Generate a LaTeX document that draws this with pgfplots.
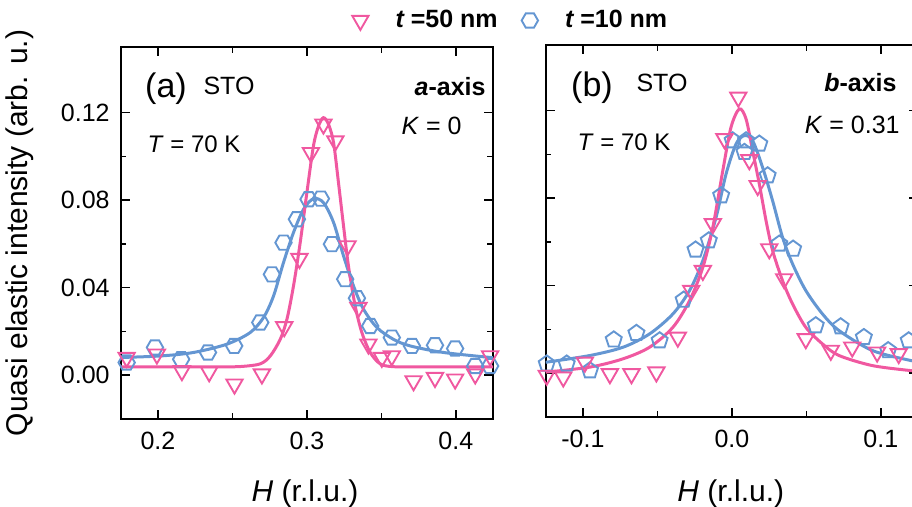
\documentclass[border=0pt]{standalone}
\usepackage{fontspec}
\setmainfont{Liberation Sans}
\usepackage{pgfplots}
\pgfplotsset{compat=1.18}
\usetikzlibrary{plotmarks}
\definecolor{cpink}{RGB}{240,88,160}
\definecolor{cblue}{RGB}{100,150,210}
\pgfdeclareplotmark{hexa}{%
  \pgfpathmoveto{\pgfqpointpolar{0}{\pgfplotmarksize}}%
  \pgfpathlineto{\pgfqpointpolar{60}{\pgfplotmarksize}}%
  \pgfpathlineto{\pgfqpointpolar{120}{\pgfplotmarksize}}%
  \pgfpathlineto{\pgfqpointpolar{180}{\pgfplotmarksize}}%
  \pgfpathlineto{\pgfqpointpolar{240}{\pgfplotmarksize}}%
  \pgfpathlineto{\pgfqpointpolar{300}{\pgfplotmarksize}}%
  \pgfpathclose\pgfusepathqstroke}
\pgfplotsset{
  mystyle/.style={
    scale only axis, width=186.2pt, height=186pt,
    ymin=-0.02, ymax=0.15,
    ytick={0,0.04,0.08,0.12},
    minor x tick num=1, minor y tick num=1,
    tick align=inside, tick pos=both,
    major tick length=4.5pt, minor tick length=2.8pt,
    axis line style={line width=0.9pt},
    every tick/.append style={line width=0.8pt, black},
    tick label style={font=\fontsize{12.5}{14}\selectfont},
    xticklabel style={yshift=-3pt},
    yticklabel style={xshift=-2pt},
    /pgf/number format/assume math mode=true,
    label style={font=\fontsize{15}{17}\selectfont},
  },
  pinkm/.style={only marks, mark=triangle, mark size=4.7pt, mark options={rotate=180, line width=0.95pt, cpink, fill=none}},
  bluem/.style={only marks, mark=hexa, mark size=4.1pt, mark options={line width=0.95pt, cblue, fill=none}},
  bluep/.style={only marks, mark=pentagon, mark size=4.2pt, mark options={line width=0.95pt, cblue, fill=none}},
  pinkl/.style={no marks, smooth, tension=0.5, cpink, line width=1.5pt},
  bluel/.style={no marks, smooth, tension=0.5, cblue, line width=1.5pt},
}
\begin{document}
\begin{tikzpicture}
\useasboundingbox (0,0) rectangle (456pt,253.5pt);
% ---------------- panel (a)
\begin{axis}[mystyle, at={(60.35pt,44pt)}, anchor=south west,
  xmin=0.175, xmax=0.425,
  xtick={0.2,0.3,0.4}, xticklabels={0.2,0.3,0.4},
  yticklabels={0.00,0.04,0.08,0.12},
  xlabel={\textit{H} (r.l.u.)},
  xlabel style={at={(axis description cs:0.495,-0.2)}, anchor=center},
  ylabel={Quasi elastic intensity (arb. u.)},
  ylabel style={at={(axis description cs:-0.272,0.5)}, anchor=center},
  legend columns=2,
  legend style={at={(1.05,1.0712)}, anchor=center, draw=none, fill=none,
    font=\fontsize{12.5}{15}\selectfont\bfseries,
    /tikz/every even column/.append style={column sep=10pt}},
]
\addplot[bluem, forget plot] coordinates {
(0.179,0.0058) (0.198,0.0127) (0.2156,0.0073) (0.2336,0.0104) (0.2512,0.0134)
(0.2687,0.0241) (0.2765,0.0461) (0.2843,0.0606) (0.2933,0.0713) (0.3011,0.0804)
(0.3094,0.0807) (0.3168,0.0599) (0.3257,0.0439) (0.3336,0.0352) (0.3425,0.0225)
(0.3570,0.0172) (0.3705,0.0134) (0.3860,0.0137) (0.3995,0.0122) (0.4130,0.0042)
(0.4230,0.0042)};
\addplot[pinkm] coordinates {
(0.179,0.0081) (0.1993,0.0096) (0.2161,0.0020) (0.2344,0.0015) (0.2514,-0.0041)
(0.2698,0.0005) (0.2848,0.0221) (0.2950,0.0533) (0.3027,0.1017) (0.3111,0.1147)
(0.3191,0.1070) (0.3273,0.0591) (0.3346,0.0309) (0.3413,0.0142) (0.3503,0.0081)
(0.3570,0.0088) (0.3716,-0.0026) (0.3860,-0.0011) (0.3995,-0.0018) (0.4130,0.0005)
(0.4230,0.0088)};
\addlegendentry{\hspace{11.5pt}{\itshape t} =50 nm}
\addplot[bluem] coordinates {(1,1)};
\addlegendentry{\hspace{11.5pt}{\itshape t} =10 nm}
\addplot[bluel, forget plot] coordinates {
(0.175,0.0081) (0.2015,0.0088) (0.2239,0.0104) (0.2463,0.0142) (0.2619,0.0195)
(0.2709,0.0264) (0.2776,0.0362) (0.2843,0.0515) (0.2910,0.0652) (0.2977,0.0758)
(0.3044,0.0807) (0.3111,0.0789) (0.3179,0.0698) (0.3246,0.0545) (0.3313,0.0408)
(0.3380,0.0302) (0.3470,0.0218) (0.3581,0.0164) (0.3693,0.0134) (0.3917,0.0104)
(0.425,0.0080)};
\addplot[pinkl, forget plot] coordinates {
(0.175,0.0038) (0.20,0.0038) (0.24,0.0038) (0.256,0.0040) (0.2687,0.0052)
(0.2754,0.0088) (0.2821,0.0164) (0.2866,0.0256) (0.2910,0.0408) (0.2955,0.0606)
(0.3000,0.0835) (0.3044,0.1048) (0.3078,0.1139) (0.3111,0.1177) (0.3145,0.1147)
(0.3179,0.1063) (0.3212,0.0880) (0.3246,0.0682) (0.3279,0.0499) (0.3324,0.0317)
(0.3369,0.0195) (0.3425,0.0104) (0.3492,0.0052) (0.3581,0.0039) (0.38,0.0038)
(0.425,0.0038)};
\end{axis}
% ---------------- panel (b)
\begin{axis}[mystyle, at={(272.85pt,45pt)}, anchor=south west,
  xmin=-0.125, xmax=0.125,
  xtick={-0.1,0,0.1}, xticklabels={-0.1,0.0,0.1},
  yticklabels={},
  xlabel={\textit{H} (r.l.u.)},
  xlabel style={at={(axis description cs:0.497,-0.205)}, anchor=center},
]
\addplot[bluep] coordinates {
(-0.1243,0.0043) (-0.1109,0.0043) (-0.0953,0.0012) (-0.0793,0.0153) (-0.0641,0.0183)
(-0.0485,0.0149) (-0.0324,0.0335) (-0.0244,0.0564) (-0.0155,0.0606) (-0.0072,0.0812)
(0.0005,0.1063) (0.0095,0.1063) (0.0084,0.1010) (0.0184,0.1048) (0.0240,0.0903)
(0.0318,0.0591) (0.0411,0.0568) (0.0563,0.0218) (0.0730,0.0213) (0.0886,0.0164)
(0.1049,0.0104) (0.1187,0.0149)};
\addplot[pinkm] coordinates {
(-0.1243,-0.0010) (-0.1132,-0.0018) (-0.0987,0.0050) (-0.0819,-0.0003) (-0.0674,-0.0003)
(-0.0507,0.0005) (-0.0363,0.0164) (-0.0273,0.0378) (-0.0195,0.0469) (-0.0128,0.0683)
(-0.0050,0.1071) (0.0043,0.1261) (0.0117,0.0975) (0.0173,0.0857) (0.0251,0.0568)
(0.0351,0.0431) (0.0496,0.0157) (0.0664,0.0104) (0.0808,0.0119) (0.0975,0.0096)
(0.1120,0.0089)};
\addplot[bluel] coordinates {
(-0.125,0.0050) (-0.0953,0.0081) (-0.0730,0.0119) (-0.0552,0.0180) (-0.0396,0.0271)
(-0.0284,0.0378) (-0.0195,0.0515) (-0.0106,0.0713) (-0.0039,0.0911) (0.0028,0.1048)
(0.0084,0.1086) (0.0139,0.1063) (0.0206,0.0941) (0.0273,0.0789) (0.0340,0.0621)
(0.0407,0.0500) (0.0496,0.0378) (0.0608,0.0271) (0.0719,0.0195) (0.0942,0.0104)
(0.1201,0.0058) (0.125,0.0055)};
\addplot[pinkl] coordinates {
(-0.125,0.0005) (-0.0953,0.0028) (-0.0730,0.0066) (-0.0552,0.0119) (-0.0396,0.0210)
(-0.0284,0.0332) (-0.0195,0.0484) (-0.0128,0.0667) (-0.0061,0.0926) (-0.0006,0.1124)
(0.0050,0.1208) (0.0095,0.1162) (0.0139,0.1017) (0.0184,0.0865) (0.0229,0.0698)
(0.0273,0.0561) (0.0340,0.0423) (0.0407,0.0317) (0.0496,0.0210) (0.0608,0.0134)
(0.0719,0.0081) (0.0942,0.0035) (0.1201,0.0012) (0.125,0.0011)};
\end{axis}
% ---------------- annotations
\node[font=\fontsize{17}{19}\selectfont] at (83pt,209.25pt) {(a)};
\node[font=\fontsize{12.5}{14}\selectfont] at (114.5pt,210.5pt) {STO};
\node[font=\fontsize{12}{14}\selectfont] at (97pt,181.6pt) {\textit{T} = 70 K};
\node[font=\fontsize{12.5}{14}\selectfont\bfseries, anchor=east, inner sep=0pt] at (243pt,210pt) {\textit{a}-axis};
\node[font=\fontsize{12.5}{14}\selectfont, anchor=east, inner sep=0pt] at (231pt,190.6pt) {\textit{K} = 0};
\node[font=\fontsize{17}{19}\selectfont] at (296pt,209.5pt) {(b)};
\node[font=\fontsize{12.5}{14}\selectfont] at (331pt,211.8pt) {STO};
\node[font=\fontsize{12}{14}\selectfont] at (312pt,182.25pt) {\textit{T} = 70 K};
\node[font=\fontsize{12.5}{14}\selectfont\bfseries, anchor=east, inner sep=0pt] at (448.5pt,212pt) {\textit{b}-axis};
\node[font=\fontsize{12.5}{14}\selectfont, anchor=east, inner sep=0pt] at (450pt,191pt) {\textit{K} = 0.31};
\end{tikzpicture}
\end{document}
